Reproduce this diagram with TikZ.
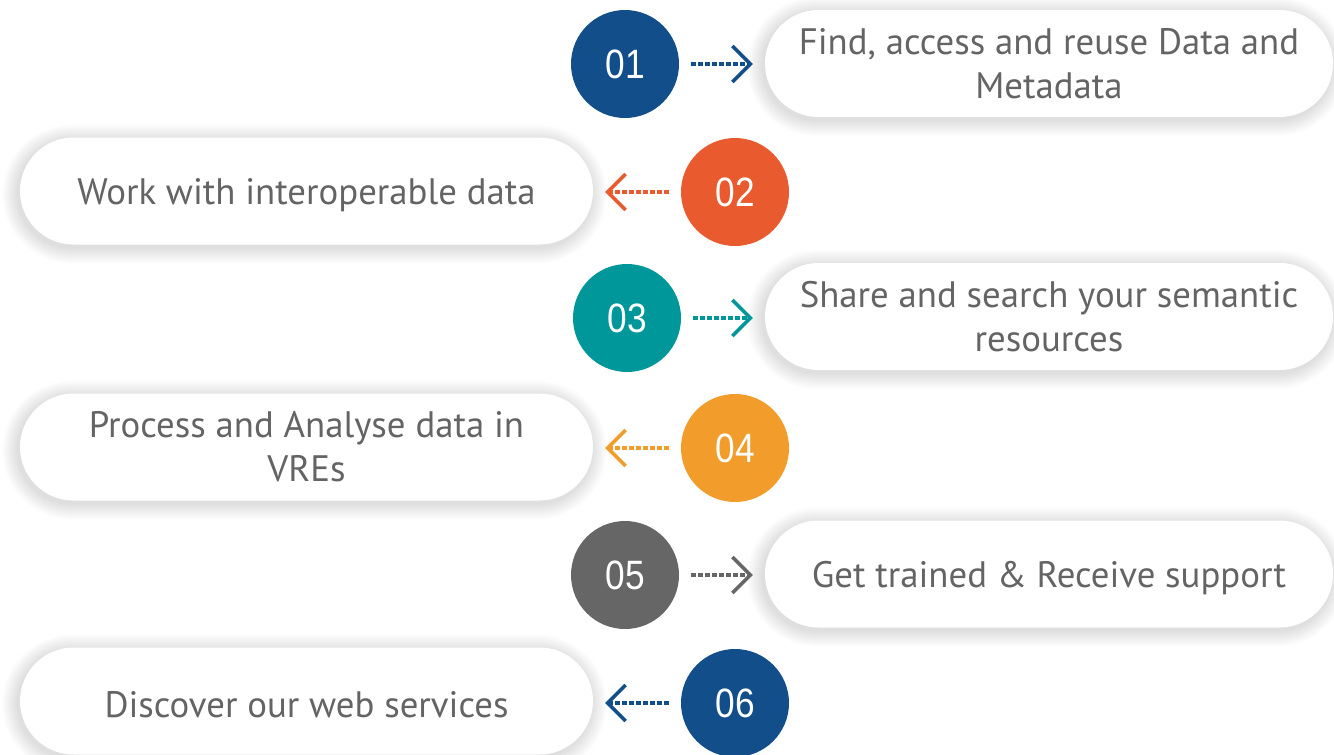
\documentclass[tikz,border=0pt]{standalone}
\usepackage{graphicx}
\usepackage{fontspec}
\setmainfont{PT Sans}
\newfontfamily\numfont{Liberation Sans}
\usetikzlibrary{arrows.meta,shapes.misc}
\pgfdeclarelayer{background}
\pgfsetlayers{background,main}
\definecolor{cblue}{HTML}{124E8A}
\definecolor{corange}{HTML}{E95B2E}
\definecolor{cteal}{HTML}{00979B}
\definecolor{cyellow}{HTML}{F29C2B}
\definecolor{cgray}{HTML}{666666}
\definecolor{txtgray}{HTML}{646464}
\newcommand{\pillglow}[2]{%
  \begin{pgfonlayer}{background}
  \foreach \k in {1,...,16}{
    \node[glowpill, minimum width={#2pt+2*\k pt}, minimum height={107pt+2*\k pt}]
      (g-#1-\k) at ([xshift=-2pt, yshift=-3pt]#1.center) {};
  }
  \end{pgfonlayer}}
\newcommand{\lowered}[1]{\raisebox{-4pt}[\height][\depth]{#1}}
\begin{document}
\begin{tikzpicture}[x=1pt,y=-1pt,
  pill/.style={rounded rectangle, fill=white, minimum height=107pt, inner sep=0pt,
    align=center, text=txtgray, font=\fontsize{36.8}{44}\selectfont},
  glowpill/.style={rounded rectangle, inner sep=0pt, fill=black, fill opacity=0.0065, draw=none},
  num/.style={circle, fill=#1, minimum size=108pt, inner sep=0pt, text=white,
    font=\numfont\fontsize{41}{41}\selectfont},
  link/.style={draw=#1, line width=4pt, dash pattern=on 4.5pt off 2.5pt,
    shorten <=12pt, shorten >=12pt,
    -{Straight Barb[length=18pt,width=36pt,line width=3.5pt]}}
]
\begin{pgfonlayer}{background}
\fill[white] (0,0) rectangle (1334,755);
\end{pgfonlayer}
\useasboundingbox (0,0) rectangle (1334,755);

% pills
\node[pill, minimum width=568pt] (p1) at (1049,63.5) {Find, access and reuse Data and\\Metadata};
\node[pill, minimum width=573pt] (p2) at (306.5,191) {\lowered{Work with interoperable data}};
\node[pill, minimum width=568pt] (p3) at (1049,316.5) {Share and search your semantic\\resources};
\node[pill, minimum width=573pt] (p4) at (306.5,447) {Process and Analyse data in\\VREs};
\node[pill, minimum width=568pt] (p5) at (1049,574) {\lowered{Get trained \& Receive support}};
\node[pill, minimum width=573pt] (p6) at (306.5,701) {\lowered{Discover our web services}};
\pillglow{p1}{568}\pillglow{p2}{573}\pillglow{p3}{568}\pillglow{p4}{573}\pillglow{p5}{568}\pillglow{p6}{573}

% circles
\node[num=cblue] (c1) at (625,64) {\scalebox{0.86}[1]{01}};
\node[num=corange] (c2) at (735,192) {\scalebox{0.86}[1]{02}};
\node[num=cteal] (c3) at (627,318) {\scalebox{0.86}[1]{03}};
\node[num=cyellow] (c4) at (735,448) {\scalebox{0.86}[1]{04}};
\node[num=cgray] (c5) at (625,575) {\scalebox{0.86}[1]{05}};
\node[num=cblue] (c6) at (735,703) {\scalebox{0.86}[1]{06}};

% connectors
\draw[link=cblue] (c1.east) -- (c1.east -| p1.west);
\draw[link=corange] (c2.west) -- (c2.west -| p2.east);
\draw[link=cteal] (c3.east) -- (c3.east -| p3.west);
\draw[link=cyellow] (c4.west) -- (c4.west -| p4.east);
\draw[link=cgray] (c5.east) -- (c5.east -| p5.west);
\draw[link=cblue] (c6.west) -- (c6.west -| p6.east);
\end{tikzpicture}
\end{document}
